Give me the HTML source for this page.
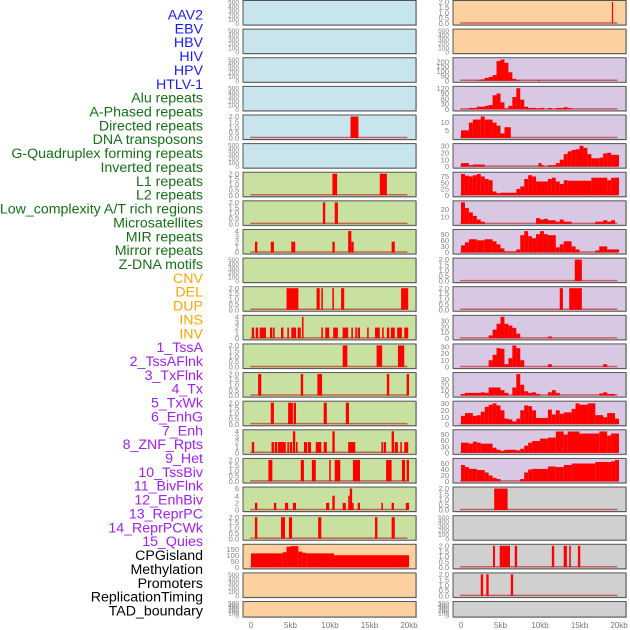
<!DOCTYPE html>
<html><head><meta charset="utf-8">
<style>
html,body{margin:0;padding:0;background:#fff;}
svg{display:block;font-family:"Liberation Sans",sans-serif;}
</style></head>
<body>
<svg id="chart" width="630" height="630" viewBox="0 0 630 630" xmlns="http://www.w3.org/2000/svg"></svg>
<script>
// ---- data ----
const trackLabels = ["AAV2","EBV","HBV","HIV","HPV","HTLV-1","Alu repeats","A-Phased repeats","Directed repeats","DNA transposons","G-Quadruplex forming repeats","Inverted repeats","L1 repeats","L2 repeats","Low_complexity A/T rich regions","Microsatellites","MIR repeats","Mirror repeats","Z-DNA motifs","CNV","DEL","DUP","INS","INV","1_TssA","2_TssAFlnk","3_TxFlnk","4_Tx","5_TxWk","6_EnhG","7_Enh","8_ZNF_Rpts","9_Het","10_TssBiv","11_BivFlnk","12_EnhBiv","13_ReprPC","14_ReprPCWk","15_Quies","CPGisland","Methylation","Promoters","ReplicationTiming","TAD_boundary"];
const labelGroups = ["v","v","v","v","v","v","r","r","r","r","r","r","r","r","r","r","r","r","r","s","s","s","s","s","c","c","c","c","c","c","c","c","c","c","c","c","c","c","c","o","o","o","o","o"];
const xTickValues = [0,5,10,15,20];
const xTickLabels = ["0","5kb","10kb","15kb","20kb"];
const T500 = [0,100,200,300,400,500];
const T2 = [0,0.5,1,1.5,2];
// left column: segments [startKb,endKb,value]
const leftSegs = [
 [],[],[],[],
 [[12.6,13.6,2]],
 [],
 [[10.3,10.9,2],[16.3,17.2,2]],
 [[9.1,9.4,2],[10.6,11.0,2]],
 [[0.5,0.8,2],[2.5,2.9,2],[5.1,5.6,2],[10.3,10.6,2],[12.3,12.7,4],[12.7,13.0,2],[17.8,18.2,2]],
 [],
 [[4.5,6.0,2],[8.3,8.7,2],[8.9,9.1,2],[10.3,10.5,2],[11.4,11.8,2],[19.0,19.9,2]],
 [[0.1,0.4,2],[0.6,0.9,2],[1.1,1.9,2],[2.4,2.7,2],[2.8,3.0,2],[3.8,4.1,2],[4.6,4.8,2],[5.1,5.7,2],[5.9,6.3,2],[6.45,6.65,4],[8.9,9.1,2],[9.4,9.9,2],[10.4,11.0,2],[11.6,12.3,2],[12.7,12.9,2],[13.2,13.4,2],[13.5,13.8,2],[14.7,14.9,2],[15.7,16.3,2],[16.6,16.8,2],[17.2,17.5,2],[17.7,18.2,2],[18.5,19.1,2],[19.4,19.9,2]],
 [[11.6,12.2,2],[15.9,16.6,2],[18.6,19.4,2]],
 [[0.9,1.3,2],[6.3,6.6,2],[8.4,9.0,2],[17.2,17.5,2],[19.7,20.0,2]],
 [[2.5,2.9,2],[4.7,5.3,2],[5.4,5.7,2],[9.2,9.6,2],[12.0,12.4,2]],
 [[0.1,0.4,2],[2.6,2.9,2],[3.0,3.3,2],[3.4,4.4,2],[4.6,4.8,2],[4.9,5.2,2],[5.3,5.6,4],[5.7,5.9,2],[6.7,7.1,2],[7.2,7.6,2],[8.2,8.9,2],[9.2,9.6,2],[10.3,10.6,4],[12.3,13.2,2],[16.5,16.7,2],[16.8,17.1,2],[17.8,18.1,4],[18.2,18.6,2],[18.9,19.1,2],[19.4,19.9,2]],
 [[2.2,2.7,2],[6.3,6.7,2],[7.7,8.2,2],[9.9,10.1,2],[10.6,11.3,2],[12.9,13.8,2],[17.1,17.8,2],[19.1,19.5,2],[19.7,20.0,2]],
 [[0.5,0.8,2],[2.9,3.2,2],[4.3,4.7,2],[5.3,5.7,2],[9.5,9.9,2],[10.3,10.6,4],[11.6,12.0,2],[12.3,12.5,4],[12.5,12.8,6],[12.8,13.0,2],[13.5,13.8,2],[16.5,16.7,2],[17.8,18.1,2],[19.6,20.0,2]],
 [[0.5,0.8,2],[3.8,4.3,2],[4.8,5.2,2],[8.5,8.9,2],[15.7,16.0,2],[17.8,18.2,2]],
 [[0,4,115],[4,4.5,125],[4.5,5,170],[5,6,175],[6,6.5,130],[6.5,7,120],[7,10.5,115],[10.5,20,100]],
 [],[]
];
const leftTicks = [T500,T500,T500,T500,T2,T500,T2,T2,[0,1,2,3,4],T500,T2,[0,1,2,3,4],T2,T2,T2,[0,1,2,3,4],T2,[0,2,4,6],T2,[0,50,100,150],T500,T500];
const leftMax = [500,500,500,500,2,500,2,2,4,500,2,4,2,2,2,4,2,6,2,178,500,500];
const rightSegs = [
 [[19.1,19.25,2]],
 [],
 [[2,2.5,5],[2.5,3,15],[3,3.5,30],[3.5,4,40],[4,4.5,60],[4.5,5,210],[5,5.5,225],[5.5,6,190],[6,6.5,90],[6.5,7,20],[7,7.5,5],[9.7,10,8]],
 [[0,1,2],[1,2,8],[2,3,15],[3,3.5,20],[3.5,4,25],[4,4.5,80],[4.5,5,90],[5,5.5,40],[5.5,6,5],[6,6.5,20],[6.5,7,70],[7,7.5,120],[7.5,8,55],[8,8.5,15],[8.5,9.5,8],[9.5,10,5],[10,10.5,8],[11,11.5,8],[12,13,8],[13,13.5,12],[13.5,14,8]],
 [[0,1,5],[1,1.5,10],[1.5,2.5,12],[2.5,3,14],[3,4,12],[4,4.5,10],[4.5,5,8],[5,5.5,3],[5.5,6.3,7]],
 [[0,1,5],[1,1.5,2],[1.5,3,3],[9.8,10.2,5],[10.2,10.5,2],[11,12,2],[12,12.5,5],[12.5,13,10],[13,13.5,18],[13.5,14,22],[14,14.5,24],[14.5,15,25],[15,15.5,30],[15.5,16,27],[16,16.5,18],[16.5,17.5,12],[17.5,18,13],[18,18.5,19],[18.5,19,20],[19,20,17]],
 [[0,0.5,85],[0.5,1,78],[1,1.5,75],[1.5,2,80],[2,2.5,85],[2.5,3,75],[3,3.5,65],[3.5,4,60],[4,4.5,15],[4.5,5,8],[5,7,10],[7,7.5,25],[7.5,8,35],[8,8.5,65],[8.5,9,80],[9,9.5,75],[9.5,11,55],[11,11.5,65],[11.5,12,70],[12,12.5,55],[12.5,13,45],[13,13.5,60],[13.5,16.5,58],[16.5,18.5,70],[18.5,19,60],[19,20,70]],
 [[0,0.5,30],[0.5,1,22],[1,1.5,16],[1.5,2,11],[2,2.5,6],[2.5,3,3],[9.5,10,8],[10,10.5,6],[10.5,11,7],[11,12,5],[12,12.5,3],[12.5,13,6],[13,14,3],[17,18,3],[18,18.5,5],[18.5,19,3],[19,19.5,5]],
 [[0,0.5,35],[0.5,1,50],[1,2,65],[2,3,60],[3,4,65],[4,4.5,55],[4.5,5,40],[5,5.5,20],[5.5,7,5],[7,7.5,15],[7.5,8,85],[8,8.5,105],[8.5,9,80],[9,9.5,70],[9.5,10,90],[10,10.5,105],[10.5,11,90],[11,12,85],[12,12.5,25],[12.5,13,40],[13,14,55],[14,14.5,30],[14.5,15,15],[17,17.5,10],[17.5,18.5,30],[18.5,20,15]],
 [[14.4,15.3,2]],
 [[12.5,12.9,2],[13.7,15.3,2]],
 [[3.5,4,5],[4,4.5,15],[4.5,5,25],[5,5.5,37],[5.5,6,25],[6,6.5,22],[6.5,7,18],[7,7.5,8],[11,11.5,3]],
 [[3.5,4,10],[4,4.5,18],[4.5,5,28],[5,5.5,27],[5.5,6,4],[6,6.5,13],[6.5,7,32],[7,7.5,28],[7.5,8,10],[11,11.5,4],[18,18.5,4]],
 [[0,0.5,3],[0.5,2.5,5],[2.5,3,6],[3,3.5,5],[3.5,5,15],[5,5.5,10],[5.5,6,5],[6.5,7,15],[7,7.5,40],[7.5,8,20],[8,8.5,8],[8.5,9,5],[9,9.5,6],[9.5,10,3],[11,11.5,6],[11.5,12,10],[12,12.5,5],[17.5,18,4],[18,18.5,6],[18.5,19.5,3]],
 [[0,0.5,12],[0.5,1.5,16],[1.5,2,12],[2,2.5,13],[2.5,3,18],[3,3.5,25],[3.5,4,28],[4,4.5,30],[4.5,5,27],[5,5.5,20],[5.5,6,8],[6,6.5,7],[6.5,7,4],[7,7.5,8],[7.5,8,20],[8,8.5,27],[8.5,9,26],[9,9.5,20],[9.5,11,9],[11,11.5,21],[11.5,12,14],[12,12.5,20],[12.5,13,15],[13,14,17],[14,14.5,22],[14.5,15,30],[15,16,28],[16,17,30],[17,18,13],[18,18.5,10],[18.5,19.5,16],[19.5,20,8]],
 [[0,1,50],[1,1.5,45],[1.5,2,55],[2,2.5,50],[2.5,4,45],[4,4.5,25],[4.5,5,15],[5,5.5,10],[5.5,7,15],[7,7.5,12],[7.5,8,20],[8,8.5,35],[8.5,9,50],[9,10,58],[10,11,70],[11,12,75],[12,13,105],[13,13.5,90],[13.5,15,105],[15,17.5,95],[17.5,18.5,105],[18.5,19,85],[19,20,95]],
 [[0,0.5,55],[0.5,1,48],[1,2,42],[2,3,38],[3,3.5,30],[3.5,4,20],[4,4.5,12],[4.5,5,8],[7.5,8,8],[8,8.5,30],[8.5,9,40],[9,11,42],[11,12,50],[12,13,48],[13,14,55],[14,17,60],[17,19,65],[19,19.5,67],[19.5,20,72]],
 [[4.2,5.9,2]],
 [],
 [[4.05,4.3,2],[4.9,5.3,2],[5.3,6.2,2],[6.8,7.1,2],[11.5,11.8,2],[13.0,13.4,2],[13.7,13.9,2],[14.8,15.1,2]],
 [[2.5,2.8,2],[3.2,3.5,2],[6.3,6.6,2]],
 []
];
const rightTicks = [T2,T500,[0,50,100,150,200],[0,30,60,90,120],[5,10],[0,10,20,30],[0,25,50,75],[10,20],[0,30,60,90],T2,T2,[0,10,20,30],[0,10,20,30],[0,10,20,30],[0,10,20,30],[0,30,60,90],[0,20,40,60],T2,T500,T2,T2,T500];
const rightMax = [2,500,228,122,14,31,86,30,106,2,2,37,32,40,31,106,72,2,500,2,2,500];
const leftBg = ["b","b","b","b","b","b","g","g","g","g","g","g","g","g","g","g","g","g","g","p","p","p"];
const rightBg = ["p","p","u","u","u","u","u","u","u","u","u","u","u","u","u","u","u","y","y","y","y","y"];

// ---- drawing ----
const svg = document.getElementById('chart');
const NS = 'http://www.w3.org/2000/svg';
const bgColors = {b:'#c8e4ec',g:'#c8e0a0',p:'#fdd0a0',u:'#d8c8e4',y:'#d0d0d0'};
const labelColors = {v:'#1a1aff',r:'#157015',s:'#ffa500',c:'#a020f0',o:'#000'};
function mk(tag, attrs, parent){const e=document.createElementNS(NS,tag);for(const k in attrs)e.setAttribute(k,attrs[k]);(parent||svg).appendChild(e);return e;}
const rowStep = 28.62;
function rowTop(i){return i*rowStep;}
function rowH(i){return i===21?16:25;}
function xScale(col,kb){return (col===0?251:461)+kb*7.9;}

trackLabels.forEach((t,i)=>{
  const e=mk('text',{x:203,y:19.5+i*13.86,'text-anchor':'end','font-size':14.2,fill:labelColors[labelGroups[i]]});
  e.textContent=t;
  
  
});

function drawPanel(col,i,segs,ticks,ymax,bg){
  const g=mk('g',{});
  
  
  const T=rowTop(i),H=rowH(i);
  const px=col===0?243:453;
  mk('rect',{x:px+1,y:T+1,width:173,height:H,fill:'#aaa',opacity:0.6},g);
  mk('rect',{x:px,y:T+0.5,width:173,height:H-0.5,fill:bgColors[bg],stroke:'#555','stroke-width':1},g);
  const y0=T+H-1.5, span=H-3.5;
  const ys=v=>y0-v/ymax*span;
  const fs=(ticks===T500)?6.5:7.5;
  ticks.forEach(tv=>{
    const lbl=mk('text',{x:px-4,y:ys(tv)+2.6,'text-anchor':'end','font-size':fs,fill:'#808080'},g);
    lbl.textContent=(ticks===T2)?tv.toFixed(1):String(tv);
    
    
  });
  if(segs.length){
    mk('line',{x1:xScale(col,-0.1),x2:xScale(col,19.8),y1:y0-0.5,y2:y0-0.5,stroke:'#c03030','stroke-width':1.5,opacity:0.7},g);
  }
  segs.forEach(s=>{
    const x1=xScale(col,s[0]),x2=xScale(col,s[1]);
    const b=mk('rect',{x:x1,y:ys(s[2]),width:Math.max(x2-x1,1),height:y0-ys(s[2]),fill:'#ff0000'},g);
    
    
  });
}
for(let i=0;i<22;i++){
  drawPanel(0,i,leftSegs[i],leftTicks[i],leftMax[i],leftBg[i]);
  drawPanel(1,i,rightSegs[i],rightTicks[i],rightMax[i],rightBg[i]);
}
[0,1].forEach(col=>{
  xTickValues.forEach((v,k)=>{
    const t=mk('text',{x:xScale(col,v),y:628,'text-anchor':'middle','font-size':8,fill:'#777'});
    t.textContent=xTickLabels[k];
    
    
  });
});
</script>
</body></html>
